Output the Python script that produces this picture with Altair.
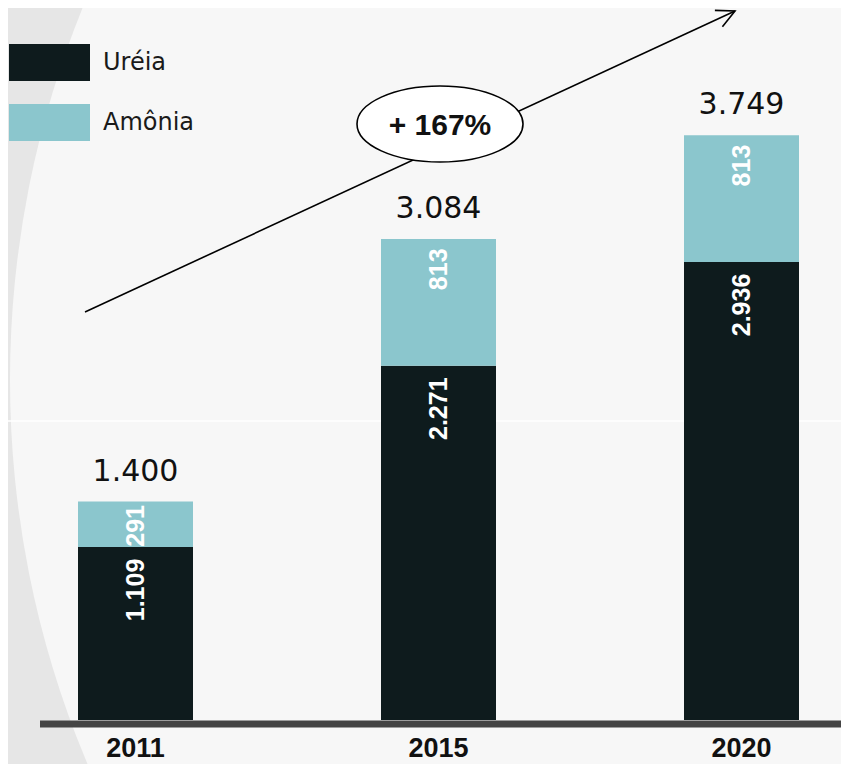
import altair as alt
import pandas as pd

# ---- data ----
anos = ["2011", "2015", "2020"]
ureia = [1109, 2271, 2936]
amonia = [291, 813, 813]
produtos = ["Uréia", "Amônia"]
cores = ["#0e1b1d", "#8bc6cd"]
crescimento = ["+ 167%"]

rows = []
for i, a in enumerate(anos):
    rows.append({"ano": a, "produto": produtos[0], "valor": ureia[i], "ordem": 0})
    rows.append({"ano": a, "produto": produtos[1], "valor": amonia[i], "ordem": 1})
df = pd.DataFrame(rows)
anot = pd.DataFrame({"rotulo": crescimento})

W, H = 833, 756
BASE = 712  # baseline in chart px
K = 0.156   # px per unit

xs = alt.X("ano:N", scale=alt.Scale(type="point", domain=anos, range=[127.5, 733.5], padding=0), axis=None)
ys = alt.Scale(domain=[0, 4000], range=[BASE, BASE - 4000 * K], nice=False, zero=True)

fmt = "replace(format(datum.{f}, ','), ',', '.')"

base = alt.Chart(df)

# decorative background disc
disc = alt.Chart(anot).mark_point(
    shape="circle", size=1980 * 1980, filled=True, color="#f7f7f7", opacity=1, strokeWidth=0
).encode(x=alt.value(992), y=alt.value(372))

faint = alt.Chart(anot).mark_rule(color="#ffffff", strokeWidth=1.5).encode(
    x=alt.value(0), x2=alt.value(W), y=alt.value(413)
)

bars = base.mark_bar(size=115).encode(
    x=xs,
    y=alt.Y("sum(valor):Q", scale=ys, axis=None, stack="zero"),
    color=alt.Color(
        "produto:N",
        scale=alt.Scale(domain=produtos, range=cores),
        legend=alt.Legend(
            orient="none", legendX=23, legendY=36, title=None,
            symbolType="M-2.189,-1L2.189,-1L2.189,1L-2.189,1Z",
            symbolSize=1369, symbolStrokeWidth=0, symbolOpacity=1,
            labelFont="DejaVu Sans", labelFontSize=24, labelColor="#1a1a1a",
            labelOffset=35, rowPadding=23, padding=0,
        ),
    ),
    order=alt.Order("ordem:Q"),
)

seg_labels = base.transform_stack(
    stack="valor", groupby=["ano"], as_=["y0", "y1"], sort=[alt.SortField("ordem")]
).transform_calculate(
    rotulo=fmt.format(f="valor"),
    pos="datum.y1 - min(75, datum.valor * 0.075)",
).mark_text(
    angle=270, align="right", baseline="middle",
    color="white", font="Liberation Sans", fontWeight="bold", fontSize=25,
).encode(x=xs, y=alt.Y("pos:Q", scale=ys), text="rotulo:N")

totals = base.transform_aggregate(total="sum(valor)", groupby=["ano"]).transform_calculate(
    rotulo=fmt.format(f="total")
).mark_text(
    dy=-21, baseline="alphabetic", font="DejaVu Sans", fontSize=30, color="#111111"
).encode(x=xs, y=alt.Y("total:Q", scale=ys), text="rotulo:N")

axis_line = alt.Chart(anot).transform_calculate(z="0").mark_rule(
    color="#444444", strokeWidth=7, yOffset=4
).encode(x=alt.value(32), x2=alt.value(W), y=alt.Y("z:Q", scale=ys))

year_labels = base.transform_aggregate(total="sum(valor)", groupby=["ano"]).transform_calculate(
    z="0"
).mark_text(
    baseline="top", dy=16, font="Liberation Sans", fontWeight="bold", fontSize=27, color="#111111"
).encode(x=xs, y=alt.Y("z:Q", scale=ys), text="ano:N")

arrow_line = alt.Chart(anot).mark_rule(color="black", strokeWidth=1.6).encode(
    x=alt.value(77), y=alt.value(304), x2=alt.value(727), y2=alt.value(3)
)
arrow_head = alt.Chart(anot).mark_point(
    shape="M-1,-0.5L0,0L-1,0.5", size=1296, angle=335.3, color="black",
    filled=False, strokeWidth=1.6, opacity=1,
).encode(x=alt.value(727), y=alt.value(3))

ellipse = alt.Chart(anot).mark_point(
    shape="M-1,0A1,0.458 0 1,1 1,0A1,0.458 0 1,1 -1,0Z", size=166 * 166,
    filled=True, fill="white", stroke="black", strokeWidth=1.6, opacity=1,
).encode(x=alt.value(432), y=alt.value(116))

growth = alt.Chart(anot).mark_text(
    font="Liberation Sans", fontWeight="bold", fontSize=30, color="#111111", baseline="middle", dy=2
).encode(x=alt.value(432), y=alt.value(116), text="rotulo:N")

chart = alt.layer(
    disc, faint, bars, seg_labels, totals, axis_line, year_labels, arrow_line, arrow_head, ellipse, growth
).properties(
    width=W, height=H, padding=0, background="#e6e6e6",
    autosize=alt.AutoSizeParams(type="none"),
).configure_view(stroke=None)

chart.save("out.html", embed_options={"renderer": "svg", "actions": False})
